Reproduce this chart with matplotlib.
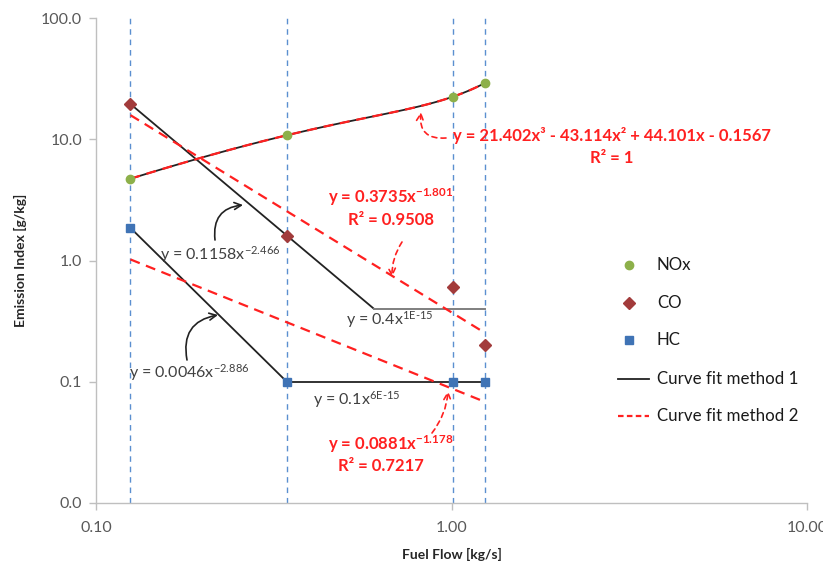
import numpy as np
import matplotlib
matplotlib.use("Agg")
import matplotlib.pyplot as plt
from matplotlib.ticker import FixedLocator, FuncFormatter, NullLocator

# ---------------- data ----------------
fuel_flow = [0.125, 0.344, 1.01, 1.24]
nox = [4.7, 10.8, 22.5, 29.0]
co = [19.5, 1.6, 0.6, 0.2]
hc = [1.86, 0.1, 0.1, 0.1]

# trend-line coefficients printed on the chart
nox_poly = [21.402, -43.114, 44.101, -0.1567]
co_m1_pow = [0.1158, -2.466]
co_m1_const = 0.4
hc_m1_pow = [0.0046, -2.886]
hc_m1_const = 0.1
co_m2_pow = [0.3735, -1.801]
hc_m2_pow = [0.0881, -1.178]

x_ticks = [0.1, 1.0, 10.0]
y_ticks = [0.01, 0.1, 1.0, 10.0, 100.0]

# ---------------- style ----------------
plt.rcParams['font.family'] = ['Lato', 'DejaVu Sans']
plt.rcParams['mathtext.fontset'] = 'custom'
plt.rcParams['mathtext.rm'] = 'Lato'
plt.rcParams['mathtext.bf'] = 'Lato:bold'
plt.rcParams['mathtext.it'] = 'Lato:italic'

W, H = 823, 565
fig = plt.figure(figsize=(W / 100, H / 100), dpi=100)
ax = fig.add_axes([96 / W, 1 - 503 / H, (807 - 96) / W, (503 - 18) / H])
ax.set_xscale('log')
ax.set_yscale('log')
ax.set_xlim(0.1, 10)
ax.set_ylim(0.01, 100)

def fp(x, y):
    return (x / W, 1 - y / H)

# vertical reference lines
for xv in fuel_flow:
    ax.axvline(xv, color='#5b8fd0', lw=1.0, ls=(0, (4, 3.5)), zorder=1)

# method 1 fits
x_lo, x_hi = fuel_flow[0], fuel_flow[-1]
x_co_knee = (co_m1_const / co_m1_pow[0]) ** (1 / co_m1_pow[1])
x_hc_knee = (hc_m1_const / hc_m1_pow[0]) ** (1 / hc_m1_pow[1])
xs = np.geomspace(x_lo, x_co_knee, 50)
ax.plot(xs, co_m1_pow[0] * xs ** co_m1_pow[1], color='#222222', lw=1.3, zorder=3)
ax.plot([x_co_knee, x_hi], [co_m1_const, co_m1_const], color='#7f7f7f', lw=1.4, zorder=3)
xs = np.geomspace(x_lo, x_hc_knee, 50)
ax.plot(xs, hc_m1_pow[0] * xs ** hc_m1_pow[1], color='#222222', lw=1.3, zorder=3)
ax.plot([x_hc_knee, x_hi], [hc_m1_const, hc_m1_const], color='#222222', lw=1.3, zorder=3)
xs = np.geomspace(x_lo, x_hi, 100)
ax.plot(xs, np.polyval(nox_poly, xs), color='#222222', lw=1.3, zorder=3)

# method 2 fits
dash = (0, (4.5, 3))
ax.plot(xs, np.polyval(nox_poly, xs), color='#ff2020', lw=1.6, ls=dash, zorder=4)
ax.plot(xs, co_m2_pow[0] * xs ** co_m2_pow[1], color='#ff2020', lw=1.6, ls=dash, zorder=4)
ax.plot(xs, hc_m2_pow[0] * xs ** hc_m2_pow[1], color='#ff2020', lw=1.6, ls=dash, zorder=4)

# data points
ax.plot(fuel_flow, nox, ls='none', marker='o', ms=6, color='#8db04a', mec='#8db04a', zorder=5)
ax.plot(fuel_flow, co, ls='none', marker='D', ms=6.5, color='#a23b3b', mec='#a23b3b', zorder=5)
ax.plot(fuel_flow, hc, ls='none', marker='s', ms=6, color='#3f73b5', mec='#3f73b5', zorder=5)

# axes styling
for s in ['top', 'right']:
    ax.spines[s].set_visible(False)
for s in ['left', 'bottom']:
    ax.spines[s].set_color('#bfbfbf')
    ax.spines[s].set_linewidth(1.0)
ax.xaxis.set_major_locator(FixedLocator(x_ticks))
ax.yaxis.set_major_locator(FixedLocator(y_ticks))
ax.xaxis.set_minor_locator(NullLocator())
ax.yaxis.set_minor_locator(NullLocator())
ax.xaxis.set_major_formatter(FuncFormatter(lambda v, p: f"{v:.2f}"))
ax.yaxis.set_major_formatter(FuncFormatter(lambda v, p: f"{v:.1f}"))
ax.tick_params(axis='both', colors='#bfbfbf', labelcolor='#595959', labelsize=11.5,
               length=5, width=1.0, direction='out')
ax.tick_params(axis='x', pad=8)
ax.tick_params(axis='y', pad=5)
ax.set_xlabel('Fuel Flow [kg/s]', fontsize=10, fontweight='bold', color='#262626', labelpad=9)
ax.set_ylabel('Emission Index [g/kg]', fontsize=10, fontweight='bold', color='#262626', labelpad=10)

# legend (manual, figure pixels)
leg_items = [('NOx', 265), ('CO', 303), ('HC', 340), ('Curve fit method 1', 379), ('Curve fit method 2', 416)]
fig.lines.append(plt.Line2D([629 / W], [1 - 265 / H], marker='o', ms=6, color='#8db04a', ls='none', transform=fig.transFigure))
fig.lines.append(plt.Line2D([629 / W], [1 - 303 / H], marker='D', ms=6, color='#a23b3b', ls='none', transform=fig.transFigure))
fig.lines.append(plt.Line2D([629 / W], [1 - 340 / H], marker='s', ms=6, color='#3f73b5', ls='none', transform=fig.transFigure))
fig.lines.append(plt.Line2D([618 / W, 649 / W], [1 - 379 / H] * 2, color='#222222', lw=1.3, transform=fig.transFigure))
fig.lines.append(plt.Line2D([618 / W, 649 / W], [1 - 416 / H] * 2, color='#ff2020', lw=1.6, ls=(0, (2.5, 1.5)), transform=fig.transFigure))
for label, yp in leg_items:
    fig.text(657 / W, 1 - yp / H, label, fontsize=12.2, color='#1a1a1a', va='center', ha='left')

# annotations
red = '#ff2020'
rfs = 12
fig.text(*fp(612, 136), 'y = 21.402x³ - 43.114x² + 44.101x - 0.1567', color=red, fontsize=rfs,
         fontweight='bold', ha='center', va='center')
fig.text(*fp(612, 158), 'R² = 1', color=red, fontsize=rfs, fontweight='bold', ha='center', va='center')
fig.text(*fp(391, 197), r'y = 0.3735x$^{\mathbf{-1.801}}$', color=red, fontsize=rfs,
         fontweight='bold', ha='center', va='center')
fig.text(*fp(391, 220), 'R² = 0.9508', color=red, fontsize=rfs, fontweight='bold', ha='center', va='center')
fig.text(*fp(391, 444), r'y = 0.0881x$^{\mathbf{-1.178}}$', color=red, fontsize=rfs,
         fontweight='bold', ha='center', va='center')
fig.text(*fp(381, 466), 'R² = 0.7217', color=red, fontsize=rfs, fontweight='bold', ha='center', va='center')

gray = '#404040'
fig.text(*fp(220, 255), r'y = 0.1158x$^{\mathrm{-2.466}}$', color=gray, fontsize=11.5, ha='center', va='center')
fig.text(*fp(189, 373), r'y = 0.0046x$^{\mathrm{-2.886}}$', color=gray, fontsize=11.5, ha='center', va='center')
fig.text(*fp(390, 320), r'y = 0.4x$^{\mathrm{1E\text{-}15}}$', color=gray, fontsize=11.5, ha='center', va='center')
fig.text(*fp(357, 400), r'y = 0.1x$^{\mathrm{6E\text{-}15}}$', color=gray, fontsize=11.5, ha='center', va='center')

def arrow(x0, y0, x1, y1, color, rad, ls='-'):
    ax.annotate('', xy=fp(x1, y1), xycoords='figure fraction', xytext=fp(x0, y0),
                textcoords='figure fraction',
                arrowprops=dict(arrowstyle='->,head_length=0.5,head_width=0.25', color=color, lw=1.2,
                                ls=ls, connectionstyle=f'arc3,rad={rad}', shrinkA=0, shrinkB=0))

arrow(446, 138, 421, 112, red, -0.6, ls=(0, (3, 2.5)))
arrow(402, 242, 392, 277, red, 0.15, ls=(0, (3, 2.5)))
arrow(432, 433, 448, 391, red, 0.15, ls=(0, (3, 2.5)))
arrow(215, 240, 243, 205, '#222222', -0.5)
arrow(187, 360, 218, 315, '#222222', -0.5)

fig.savefig('out.png', dpi=100)
